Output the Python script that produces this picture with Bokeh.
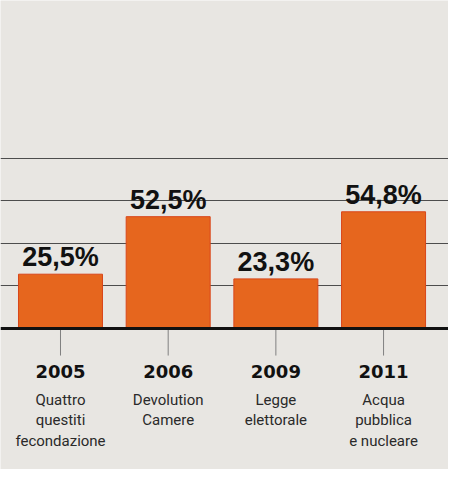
from bokeh.plotting import figure
from bokeh.models import Range1d, FixedTicker, Span, ColumnDataSource
from bokeh.core.properties import value
from bokeh.embed import file_html
from bokeh.resources import INLINE

# ---- data ----
years = ["2005", "2006", "2009", "2011"]
descriptions = [
    "Quattro\nquestiti\nfecondazione",
    "Devolution\nCamere",
    "Legge\nelettorale",
    "Acqua\npubblica\ne nucleare",
]
turnout = [25.5, 52.5, 23.3, 54.8]
grid_ticks = [20, 40, 60, 80]

# ---- derived ----
xs = list(range(len(years)))
pct_labels = [f"{v:.1f}".replace(".", ",") + "%" for v in turnout]
desc_lines = [d.split("\n") for d in descriptions]
max_lines = max(len(l) for l in desc_lines)

BG = "#e8e6e2"
W, H = 448, 469

p = figure(
    width=W, height=H,
    x_range=Range1d(-0.557, 3.603),
    y_range=Range1d(-66.2, 154.0),
    output_backend="svg", toolbar_location=None,
    min_border=0, min_border_left=0, min_border_right=0,
    min_border_top=0, min_border_bottom=0,
)
p.background_fill_color = BG
p.border_fill_color = BG
p.outline_line_color = None
p.axis.visible = False
p.xgrid.visible = False
p.ygrid.ticker = FixedTicker(ticks=grid_ticks)
p.ygrid.grid_line_color = "#4d4d4d"
p.ygrid.grid_line_width = 1.2

src = ColumnDataSource(dict(x=xs, top=turnout, pct=pct_labels, year=years))

# ticks below baseline
tick_len = 12.7
p.segment(x0=xs, y0=[0] * len(xs), x1=xs, y1=[-tick_len] * len(xs),
          line_color="#808080", line_width=1)

# bars
p.vbar(x="x", top="top", bottom=0, width=0.78, source=src,
       fill_color="#e6661e", line_color="#d9461a", line_width=1)

# baseline
p.add_layout(Span(location=0, dimension="width", line_color="#111111", line_width=3))

# percentage labels
p.text(x="x", y="top", text="pct", source=src,
       text_font=value("Liberation Sans"), text_font_style="bold",
       text_font_size="27px", text_color="#111111",
       text_align="center", text_baseline="alphabetic", y_offset=-17)

# year labels
p.text(x="x", y=0, text="year", source=src,
       text_font=value("DejaVu Sans"), text_font_style="bold",
       text_font_size="18px", text_color="#111111",
       text_align="center", text_baseline="alphabetic", y_offset=43)

# description lines
for i in range(max_lines):
    line_x = [x for x, l in zip(xs, desc_lines) if len(l) > i]
    line_t = [l[i] for l in desc_lines if len(l) > i]
    p.text(x=line_x, y=[0] * len(line_x), text=line_t,
           text_font=value("Roboto"), text_font_size="15px",
           text_color="#2a2a2a", text_align="center",
           text_baseline="alphabetic", y_offset=71 + 20.5 * i)

open("out.html", "w").write(file_html(p, INLINE))
